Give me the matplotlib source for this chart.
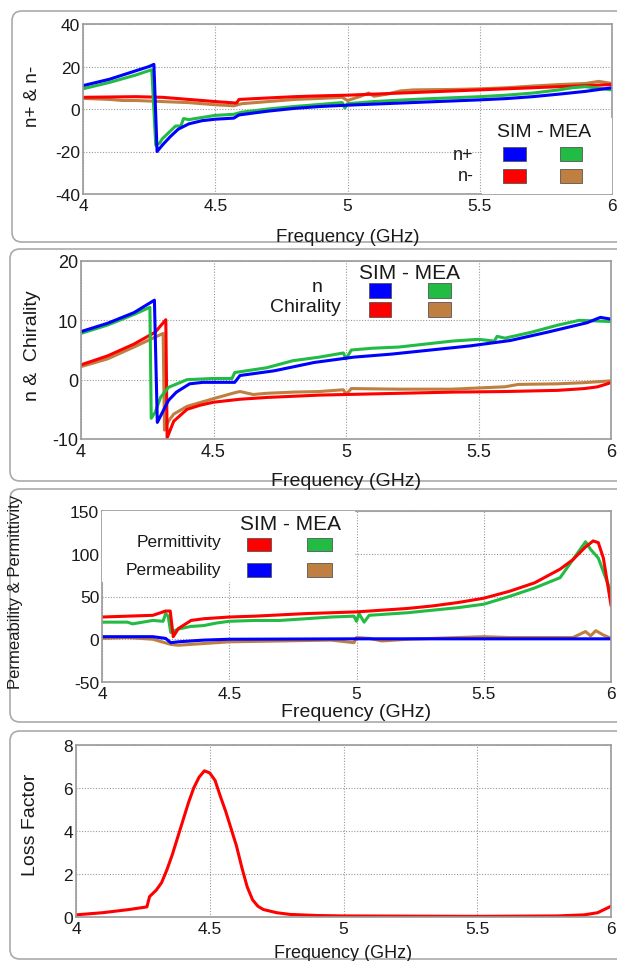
import matplotlib
matplotlib.use("Agg")
import matplotlib.pyplot as plt
from matplotlib.patches import FancyBboxPatch, Rectangle

plt.rcParams['font.family'] = ['Liberation Sans', 'DejaVu Sans']

BLUE = '#0000ff'
GREEN = '#22bb44'
RED = '#ff0000'
BROWN = '#bf7f40'
TXT = '#1a1a1a'

# --- panel 1 : n+ & n- ---
f_np_sim = [4.0, 4.05, 4.1, 4.15, 4.2, 4.25, 4.268, 4.28, 4.3, 4.33, 4.36, 4.4, 4.45, 4.5, 4.57,
            4.59, 4.65, 4.7, 4.8, 4.9, 5.0, 5.1, 5.2, 5.3, 5.4, 5.5, 5.6, 5.7, 5.8, 5.9, 6.0]
np_sim = [11, 12.5, 14, 16, 18, 20, 21, -20, -17, -13, -9.5, -7, -5.5, -4.8, -4.3,
          -2.8, -1.8, -1, 0.3, 1.2, 1.8, 2.3, 2.8, 3.3, 3.8, 4.3, 4.9, 5.8, 7, 8.3, 10]
f_np_mea = [4.0, 4.1, 4.2, 4.26, 4.275, 4.29, 4.3, 4.35, 4.37, 4.38, 4.4, 4.45, 4.5, 4.57, 4.6,
            4.7, 4.8, 4.9, 4.98, 4.99, 5.0, 5.1, 5.2, 5.3, 5.4, 5.5, 5.6, 5.7, 5.8, 5.85, 5.9, 6.0]
np_mea = [9.5, 12.5, 16, 18.5, -17, -16, -14, -8, -8, -4.5, -5, -4, -3, -2.5, -1.5,
          0, 1.2, 2.2, 3, 0.5, 2.5, 3.5, 4.2, 4.8, 5.3, 5.8, 6.5, 7.5, 9, 10, 10.5, 9]
f_nm_sim = [4.0, 4.2, 4.3, 4.4, 4.5, 4.58, 4.59, 4.7, 4.8, 4.9, 5.0, 5.1, 5.2, 5.3, 5.4,
            5.5, 5.6, 5.7, 5.8, 5.9, 6.0]
nm_sim = [5.5, 5.8, 5.5, 4.5, 3.5, 2.8, 4.5, 5.2, 5.8, 6.2, 6.5, 7, 7.5, 8, 8.5,
          9, 9.5, 10, 10.5, 11, 11.5]
f_nm_mea = [4.0, 4.1, 4.15, 4.2, 4.3, 4.4, 4.5, 4.57, 4.6, 4.7, 4.8, 4.9, 4.98, 5.0, 5.05,
            5.08, 5.1, 5.15, 5.2, 5.25, 5.4, 5.5, 5.6, 5.7, 5.8, 5.9, 5.95, 6.0]
nm_mea = [5, 4.5, 4, 4, 3.5, 3, 2, 1.5, 2.5, 3.5, 4.5, 5, 5.5, 4, 6,
          7.5, 6, 7, 8.5, 9, 9.2, 9.5, 10, 10.8, 11.5, 12, 13, 12]

# --- panel 2 : n & Chirality ---
f_n_sim = [4.0, 4.1, 4.2, 4.277, 4.288, 4.33, 4.36, 4.41, 4.46, 4.58, 4.6, 4.73, 4.88, 5.03,
           5.17, 5.32, 5.47, 5.62, 5.76, 5.91, 5.96, 6.0]
n_sim = [8.1, 9.5, 11.3, 13.4, -7.2, -3.5, -2.1, -0.7, -0.45, -0.45, 0.7, 1.5, 2.9, 3.8,
         4.3, 5, 5.7, 6.6, 8, 9.6, 10.5, 10.2]
f_n_mea = [4.0, 4.1, 4.2, 4.26, 4.265, 4.28, 4.3, 4.33, 4.4, 4.5, 4.57, 4.58, 4.7, 4.8, 4.9,
           4.99, 5.0, 5.02, 5.1, 5.2, 5.3, 5.4, 5.5, 5.56, 5.57, 5.6, 5.7, 5.8, 5.88, 6.0]
n_mea = [7.8, 9.2, 11, 12.2, -6.5, -5.5, -3, -1.3, 0, 0.2, 0.2, 1.2, 2, 3.2, 3.8,
         4.5, 3.5, 5, 5.3, 5.5, 6, 6.5, 6.8, 6.5, 7.3, 7, 8, 9.2, 10, 9.8]
f_ch_sim = [4.0, 4.1, 4.2, 4.28, 4.32, 4.325, 4.35, 4.4, 4.45, 4.5, 4.6, 4.7, 4.8, 4.9, 5.0,
            5.2, 5.4, 5.6, 5.8, 5.9, 5.95, 6.0]
ch_sim = [2.5, 4, 6, 8, 10.1, -9.8, -7, -5, -4.3, -3.8, -3.3, -3, -2.8, -2.6, -2.5,
          -2.3, -2.1, -2, -1.8, -1.5, -1.2, -0.5]
f_ch_mea = [4.0, 4.1, 4.2, 4.31, 4.315, 4.33, 4.35, 4.4, 4.5, 4.58, 4.6, 4.65, 4.7, 4.8, 4.9,
            4.99, 5.0, 5.02, 5.2, 5.4, 5.5, 5.6, 5.65, 5.8, 5.9, 6.0]
ch_mea = [2.2, 3.5, 5.5, 7.8, -8.5, -7, -5.8, -4.5, -3.2, -2.2, -2, -2.5, -2.3, -2.1, -2,
          -1.7, -2.5, -1.5, -1.6, -1.6, -1.4, -1.2, -0.8, -0.7, -0.5, -0.2]

# --- panel 3 : permittivity & permeability ---
f_eps_sim = [4.0, 4.2, 4.25, 4.268, 4.28, 4.3, 4.35, 4.4, 4.5, 4.6, 4.7, 4.8, 4.9, 5.0, 5.1,
             5.2, 5.3, 5.4, 5.5, 5.6, 5.7, 5.8, 5.85, 5.9, 5.93, 5.95, 5.97, 6.0]
eps_sim = [26, 28, 33, 33, 3, 12.5, 22, 24, 26, 27, 28.5, 30, 31, 32, 34,
           36, 39, 43, 48, 56, 66, 82, 93, 108, 115, 113, 95, 40]
f_eps_mea = [4.0, 4.1, 4.12, 4.2, 4.24, 4.25, 4.26, 4.27, 4.3, 4.35, 4.4, 4.45, 4.5, 4.6, 4.7,
             4.8, 4.9, 4.99, 5.0, 5.01, 5.03, 5.05, 5.1, 5.2, 5.3, 5.4, 5.5, 5.6, 5.7, 5.8,
             5.9, 5.92, 5.95, 6.0]
eps_mea = [20, 20, 18, 22, 21, 30, 27, 8, 12, 15, 16, 19, 21, 22, 22,
           24, 26, 27, 21, 30, 20, 28, 29, 31, 34, 37, 41, 50, 60, 72,
           114, 105, 95, 55]
f_mu_sim = [4.0, 4.2, 4.25, 4.27, 4.3, 4.4, 4.5, 5.0, 5.5, 6.0]
mu_sim = [3, 3, 1, -4, -3, -1, 0, 0.5, 0.5, 0.5]
f_mu_mea = [4.0, 4.1, 4.2, 4.27, 4.3, 4.4, 4.5, 4.7, 4.9, 4.99, 5.0, 5.05, 5.1, 5.2, 5.4,
            5.5, 5.6, 5.7, 5.85, 5.9, 5.92, 5.94, 5.97, 6.0]
mu_mea = [1, 2, 0, -6, -7, -5, -3, -2, -1, -4, 2, 1, -2, 0, 2,
          3, 2, 2, 2, 9, 4, 10, 5, 1]

# --- panel 4 : loss factor ---
f_loss = [4.0, 4.1, 4.2, 4.265, 4.275, 4.3, 4.32, 4.34, 4.36, 4.38, 4.4, 4.42, 4.44, 4.46, 4.48,
          4.5, 4.52, 4.54, 4.56, 4.58, 4.6, 4.62, 4.64, 4.66, 4.68, 4.7, 4.75, 4.8, 4.9, 5.0,
          5.5, 5.8, 5.9, 5.95, 6.0]
loss = [0.1, 0.2, 0.35, 0.47, 0.95, 1.25, 1.6, 2.2, 2.9, 3.7, 4.5, 5.3, 6.0, 6.5, 6.8,
        6.7, 6.35, 5.6, 4.9, 4.1, 3.3, 2.3, 1.4, 0.8, 0.5, 0.35, 0.2, 0.12, 0.07, 0.05,
        0.03, 0.05, 0.1, 0.2, 0.5]

W, H = 617, 962
fig = plt.figure(figsize=(W / 100, H / 100), dpi=100)


def px_box(x0, x1, y0, y1):
    # pixel box (top-left origin) -> figure fractions [left, bottom, width, height]
    return [x0 / W, 1 - y1 / H, (x1 - x0) / W, (y1 - y0) / H]


# rounded panel frames (behind the axes)
for y0, y1, x0 in [(12, 243, 12), (250, 482, 10), (490, 723, 10), (732, 960, 10)]:
    l, b, w, h = px_box(x0, W + 20, y0, y1)
    fig.patches.append(FancyBboxPatch((l, b), w, h, boxstyle="round,pad=0,rounding_size=0.016",
                                      mutation_aspect=W / H, transform=fig.transFigure,
                                      facecolor='white', edgecolor='#aaaaaa', linewidth=1.2,
                                      zorder=-10))


def style(ax, xlim, ylim, yticks, tsize):
    ax.set_xlim(*xlim)
    ax.set_ylim(*ylim)
    ax.set_xticks([4, 4.5, 5, 5.5, 6])
    ax.set_xticklabels(['4', '4.5', '5', '5.5', '6'])
    ax.set_yticks(yticks)
    ax.set_yticklabels([str(t) for t in yticks])
    ax.grid(True, color='#999999', linestyle=(0, (1, 1.5)), linewidth=0.8)
    ax.set_axisbelow(True)
    for s in ax.spines.values():
        s.set_color('#9a9a9a')
        s.set_linewidth(1.2)
    ax.tick_params(length=0, labelsize=tsize, colors=TXT)
    ax.tick_params(axis='x', pad=3)
    ax.tick_params(axis='y', pad=2)


def swatch(ax, x0, x1, y0, y1, color):
    ax.add_patch(Rectangle((x0, y0), x1 - x0, y1 - y0, transform=ax.transAxes,
                           facecolor=color, edgecolor='#555555', linewidth=0.6, zorder=6))


LW = 2.2

# panel 1
ax1 = fig.add_axes(px_box(83, 612, 25, 195))
style(ax1, (4, 6), (-40, 40), [-40, -20, 0, 20, 40], 12.5)
ax1.plot(f_nm_mea, nm_mea, color=BROWN, lw=LW)
ax1.plot(f_nm_sim, nm_sim, color=RED, lw=LW)
ax1.plot(f_np_mea, np_mea, color=GREEN, lw=LW)
ax1.plot(f_np_sim, np_sim, color=BLUE, lw=LW)
ax1.set_xlabel('Frequency (GHz)', fontsize=13.5, color=TXT)
ax1.xaxis.set_label_coords(0.5, -0.2)
ax1.set_ylabel('n+ & n-', fontsize=13.5, color=TXT)
ax1.yaxis.set_label_coords(-0.08, 0.58)
ax1.add_patch(Rectangle((0.755, 0.0), 0.245, 0.45, transform=ax1.transAxes,
                        facecolor='white', edgecolor='none', zorder=5))
ax1.text(0.872, 0.365, 'SIM - MEA', transform=ax1.transAxes, ha='center', va='center',
         fontsize=14, color=TXT, zorder=7)
ax1.text(0.738, 0.235, 'n+', transform=ax1.transAxes, ha='right', va='center',
         fontsize=13, color=TXT, zorder=7)
ax1.text(0.738, 0.106, 'n-', transform=ax1.transAxes, ha='right', va='center',
         fontsize=13, color=TXT, zorder=7)
swatch(ax1, 0.794, 0.838, 0.194, 0.276, BLUE)
swatch(ax1, 0.902, 0.943, 0.194, 0.276, GREEN)
swatch(ax1, 0.794, 0.838, 0.065, 0.147, RED)
swatch(ax1, 0.902, 0.943, 0.065, 0.147, BROWN)

# panel 2
ax2 = fig.add_axes(px_box(81, 611, 262, 440))
style(ax2, (4, 6), (-10, 20), [-10, 0, 10, 20], 13)
ax2.plot(f_ch_mea, ch_mea, color=BROWN, lw=LW)
ax2.plot(f_ch_sim, ch_sim, color=RED, lw=LW)
ax2.plot(f_n_mea, n_mea, color=GREEN, lw=LW)
ax2.plot(f_n_sim, n_sim, color=BLUE, lw=LW)
ax2.set_xlabel('Frequency (GHz)', fontsize=14, color=TXT)
ax2.xaxis.set_label_coords(0.5, -0.185)
ax2.set_ylabel('n &  Chirality', fontsize=14, color=TXT)
ax2.yaxis.set_label_coords(-0.075, 0.53)
ax2.text(0.619, 0.938, 'SIM - MEA', transform=ax2.transAxes, ha='center', va='center',
         fontsize=15, color=TXT, zorder=7)
ax2.text(0.445, 0.854, 'n', transform=ax2.transAxes, ha='center', va='center',
         fontsize=14, color=TXT, zorder=7)
ax2.text(0.490, 0.742, 'Chirality', transform=ax2.transAxes, ha='right', va='center',
         fontsize=14, color=TXT, zorder=7)
swatch(ax2, 0.544, 0.585, 0.792, 0.876, BLUE)
swatch(ax2, 0.655, 0.698, 0.792, 0.876, GREEN)
swatch(ax2, 0.544, 0.585, 0.685, 0.770, RED)
swatch(ax2, 0.655, 0.698, 0.685, 0.770, BROWN)

# panel 3
ax3 = fig.add_axes(px_box(102, 611, 512, 683))
style(ax3, (4, 6), (-50, 150), [-50, 0, 50, 100, 150], 12.5)
ax3.plot(f_mu_mea, mu_mea, color=BROWN, lw=LW)
ax3.plot(f_mu_sim, mu_sim, color=BLUE, lw=LW)
ax3.plot(f_eps_mea, eps_mea, color=GREEN, lw=LW)
ax3.plot(f_eps_sim, eps_sim, color=RED, lw=LW)
ax3.set_xlabel('Frequency (GHz)', fontsize=14, color=TXT)
ax3.xaxis.set_label_coords(0.5, -0.123)
ax3.set_ylabel('Permeability & Permittivity', fontsize=12, color=TXT)
ax3.yaxis.set_label_coords(-0.155, 0.53)
ax3.add_patch(Rectangle((0.0, 0.585), 0.498, 0.415, transform=ax3.transAxes,
                        facecolor='white', edgecolor='none', zorder=5))
ax3.text(0.371, 0.924, 'SIM - MEA', transform=ax3.transAxes, ha='center', va='center',
         fontsize=15, color=TXT, zorder=7)
ax3.text(0.235, 0.819, 'Permittivity', transform=ax3.transAxes, ha='right', va='center',
         fontsize=12.5, color=TXT, zorder=7)
ax3.text(0.235, 0.655, 'Permeability', transform=ax3.transAxes, ha='right', va='center',
         fontsize=12.5, color=TXT, zorder=7)
swatch(ax3, 0.284, 0.333, 0.766, 0.842, RED)
swatch(ax3, 0.402, 0.451, 0.766, 0.842, GREEN)
swatch(ax3, 0.284, 0.333, 0.614, 0.696, BLUE)
swatch(ax3, 0.402, 0.451, 0.614, 0.696, BROWN)

# panel 4
ax4 = fig.add_axes(px_box(76, 611, 746, 918))
style(ax4, (4, 6), (0, 8), [0, 2, 4, 6, 8], 12.5)
ax4.plot(f_loss, loss, color=RED, lw=LW)
ax4.set_xlabel('Frequency (GHz)', fontsize=13, color=TXT)
ax4.xaxis.set_label_coords(0.5, -0.155)
ax4.set_ylabel('Loss Factor', fontsize=14, color=TXT)
ax4.yaxis.set_label_coords(-0.07, 0.54)

fig.savefig('out.png', dpi=100)
